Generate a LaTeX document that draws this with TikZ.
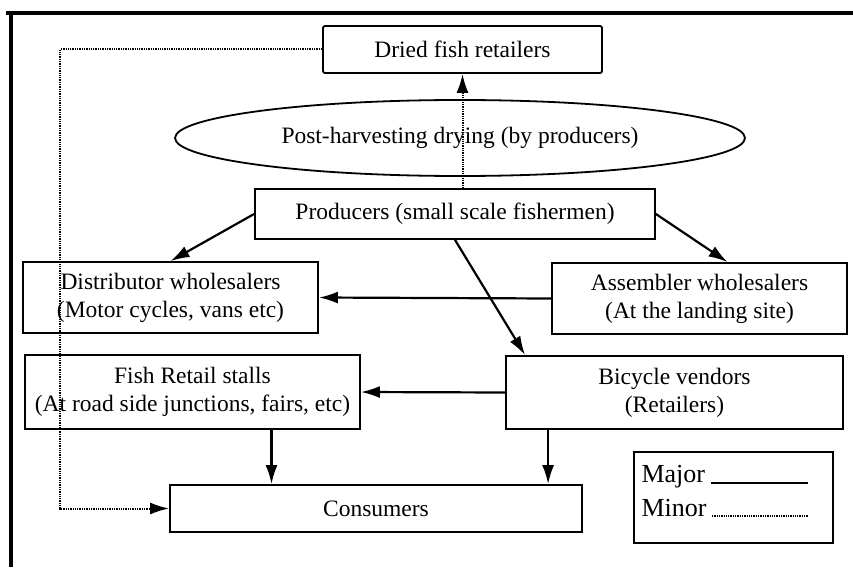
\documentclass[tikz,border=0pt]{standalone}
\usepackage{fontspec}
\setmainfont{Liberation Serif}
\usetikzlibrary{arrows.meta}
\usetikzlibrary{calc,shapes.geometric}

\begin{document}
\begin{tikzpicture}[x=1pt,y=-1pt,
		every node/.style={font=\fontsize{23.5}{28}\selectfont},
		boite/.style={draw,line width=1.8pt,align=center,inner sep=0pt},
		plein/.style={line width=2.2pt},
		points/.style={line width=2pt,dash pattern=on 1.3pt off 1pt},
		pointe/.style={-{Latex[length=19pt,width=12pt]}}]
				\useasboundingbox (0,0) rectangle (853,567);
				% Cadre
				\draw [line width=3.5pt] (6,13) -- (853,13);
				\draw [line width=3.5pt] (11,13) -- (11,567);
				% Boites
				\node [boite,rounded corners=2pt,minimum width=279pt,minimum height=47pt] (dried) at (462.5,49.5) {Dried fish retailers};
				\node [boite,ellipse,minimum width=570pt,minimum height=76pt] (drying) at (460,138) {Post-harvesting drying (by producers)};
				\node [boite,minimum width=400pt,minimum height=50pt] (producers) at (455,214) {Producers (small scale fishermen)};
				\node [boite,minimum width=295pt,minimum height=71pt] (distributor) at (170.5,297.5) {Distributor wholesalers\\(Motor cycles, vans etc)};
				\node [boite,minimum width=295pt,minimum height=71pt] (assembler) at (699.5,298.5) {Assembler wholesalers\\(At the landing site)};
				\node [boite,minimum width=335pt,minimum height=74pt] (retail) at (192.5,392) {Fish Retail stalls\\(At road side junctions, fairs, etc)};
				\node [boite,minimum width=337pt,minimum height=73pt] (bicycle) at (674.5,392.5) {Bicycle vendors\\(Retailers)};
				\node [boite,minimum width=412pt,minimum height=47pt] (consumers) at (376,508.5) {Consumers};
				% Legende
				\node [boite,minimum width=199pt,minimum height=91pt] (legende) at (733.5,497.5) {};
				\node [anchor=west,font=\fontsize{26}{30}\selectfont] (major) at (638,477) {Major};
				\node [anchor=west,font=\fontsize{26}{30}\selectfont] (minor) at (638,508) {Minor};
				\coordinate (fin) at (808,0);
				\draw [plein] ($(major.base east)+(2,0)$) -- (major.base east -| fin);
				\draw [points] ($(minor.base east)+(2,0)$) -- (minor.base east -| fin);
				% Liens
				\coordinate (boucle) at (60,0);
				\draw [points,pointe] (dried.south |- producers.north) -- (dried.south);
				\draw [points,pointe] (dried.west) -- (dried.west -| boucle) |- (consumers.west);
				\draw [plein,pointe] (producers.west) -- (distributor.north);
				\draw [plein,pointe] (producers.east) -- ($(assembler.north)+(28,0)$);
				\draw [plein,pointe] (producers.south) -- ($(bicycle.north west)+(20,0)$);
				\draw [plein,pointe] (assembler.west) -- (distributor.east);
				\draw [plein,pointe] (bicycle.west) -- (retail.east);
				\coordinate (r-bas) at ($(retail.south)+(79,0)$);
				\draw [plein,pointe] (r-bas) -- (r-bas |- consumers.north);
				\coordinate (b-bas) at ($(bicycle.south west)+(43,0)$);
				\draw [plein,pointe] (b-bas) -- (b-bas |- consumers.north);
\end{tikzpicture}
\end{document}
